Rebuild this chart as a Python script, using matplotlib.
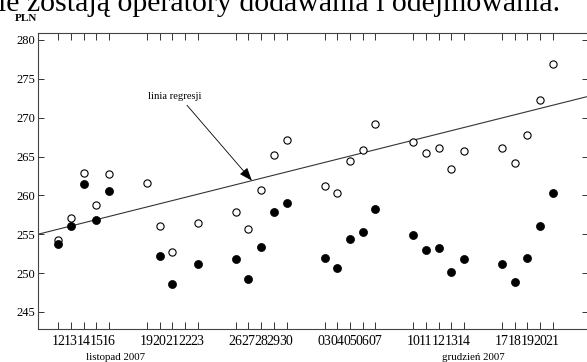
import numpy as np
import pandas as pd
import matplotlib
matplotlib.use("Agg")
import matplotlib.pyplot as plt

plt.rcParams['font.family'] = ['Liberation Serif', 'DejaVu Serif']

# trading days shown on the axis
dates = ["2007-11-12", "2007-11-13", "2007-11-14", "2007-11-15", "2007-11-16",
         "2007-11-19", "2007-11-20", "2007-11-21", "2007-11-22", "2007-11-23",
         "2007-11-26", "2007-11-27", "2007-11-28", "2007-11-29", "2007-11-30",
         "2007-12-03", "2007-12-04", "2007-12-05", "2007-12-06", "2007-12-07",
         "2007-12-10", "2007-12-11", "2007-12-12", "2007-12-13", "2007-12-14",
         "2007-12-17", "2007-12-18", "2007-12-19", "2007-12-20", "2007-12-21",
         "2007-12-24"]

# open markers
upper = [254.3, 257.1, 262.9, 258.7, 262.8,
         261.6, 256.0, 252.7, np.nan, 256.5,
         257.9, 255.7, 260.7, 265.2, 267.1,
         261.2, 260.3, 264.4, 265.8, 269.2,
         266.9, 265.5, 266.1, 263.4, 265.7,
         266.1, 264.2, 267.8, 272.3, 276.9,
         279.6]

# filled markers
lower = [253.8, 256.0, 261.5, 256.8, 260.6,
         np.nan, 252.2, 248.6, np.nan, 251.2,
         251.8, 249.2, 253.3, 257.8, 259.0,
         251.9, 250.6, 254.4, 255.3, 258.2,
         254.9, 253.0, 253.2, 250.1, 251.8,
         251.2, 248.8, 252.0, 256.0, 260.3,
         261.6]

# regression line (value at first day, slope per day)
reg_intercept = 255.65
reg_slope = 0.409

yticks = [245, 250, 255, 260, 265, 270, 275, 280]
months = [("2007-11-16 12:00", "listopad 2007"), ("2007-12-14 17:00", "grudzień 2007")]

start = pd.Timestamp(dates[0])
x = np.array([(pd.Timestamp(d) - start).days for d in dates], dtype=float)

W, H = 587, 362
fig = plt.figure(figsize=(W / 100, H / 100), dpi=100)
ax = fig.add_axes([38 / W, (H - 329) / H, (588 - 38) / W, (329 - 33) / H])

ax.plot(x, upper, 'o', ms=5.2, mfc='white', mec='black', mew=0.8,
        linestyle='none', clip_on=False, zorder=3)
ax.plot(x, lower, 'o', ms=5.8, mfc='black', mec='black', mew=0.5,
        linestyle='none', clip_on=False, zorder=4)

xlo, xhi = -1.6, 41.78
xl = np.array([xlo, xhi])
ax.plot(xl, reg_intercept + reg_slope * xl, color='#333333', lw=0.8, zorder=2)

ax.set_xlim(xlo, xhi)
ax.set_ylim(242.8, 280.9)

shown = x <= xhi
ax.set_xticks(x[shown])
ax.set_xticklabels([pd.Timestamp(d).strftime("%d") for d, s in zip(dates, shown) if s],
                   fontsize=10)
ax.set_yticks(yticks)
ax.set_yticklabels([str(v) for v in yticks], fontsize=9)
ax.tick_params(axis='x', direction='in', length=5, width=0.7, top=True, pad=4,
               color='#333333')
ax.tick_params(axis='y', direction='in', length=4, width=0.7, right=True, pad=2,
               color='#333333')
for s in ax.spines.values():
    s.set_color('#444444')
    s.set_linewidth(0.8)

for d, lab in months:
    xm = (pd.Timestamp(d) - start) / pd.Timedelta(days=1)
    ax.text(xm, -0.095, lab, transform=ax.get_xaxis_transform(),
            ha='center', va='center', fontsize=7.8)

# arrow pointing at the regression line
tip_x = 15.27
ax.annotate("", xy=(tip_x, reg_intercept + reg_slope * tip_x), xytext=(10.15, 271.6),
            arrowprops=dict(arrowstyle='-|>,head_length=0.8,head_width=0.3',
                            mutation_scale=10, color='black', lw=0.6,
                            shrinkA=0, shrinkB=0))
ax.text(9.2, 272.7, "linia regresji", ha='center', va='center', fontsize=7.6)

fig.text(15 / W, 1 - 21 / H, "PLN", fontsize=8, fontweight='bold', va='baseline')
fig.text(-17 / W, 1 - 11 / H, "nie zostają operatory dodawania i odejmowania.",
         fontsize=21.5, va='baseline')

fig.savefig("out.png", dpi=100)
